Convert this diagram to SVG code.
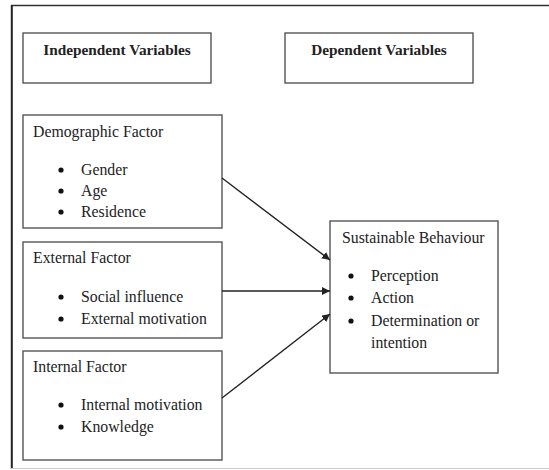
<svg xmlns="http://www.w3.org/2000/svg" width="549" height="470" viewBox="0 0 549 470">
<style>
.box{fill:#fff;stroke:#555;stroke-width:1.4}
.t{font-family:"Liberation Serif","Times New Roman",serif;font-size:15.8px;fill:#222}
.b{font-weight:bold;font-size:15.3px;text-anchor:middle}
.dot{fill:#111}
.con{stroke:#222;stroke-width:1.4;fill:none;marker-end:url(#ah)}
</style>
<defs>
<marker id="ah" viewBox="0 0 10 10" refX="10" refY="5" markerWidth="8" markerHeight="8" markerUnits="userSpaceOnUse" orient="auto">
<path d="M0,0 L10,5 L0,10 z" fill="#222"/>
</marker>
</defs>
<rect width="549" height="470" fill="#fff"/>
<g id="frame">
<line x1="11" y1="5.5" x2="549" y2="5.5" stroke="#333" stroke-width="1.6"/>
<line x1="11.8" y1="5" x2="11.8" y2="469" stroke="#222" stroke-width="2"/>
<line x1="11" y1="468.5" x2="549" y2="468.5" stroke="#ccc" stroke-width="1"/>
</g>
<g id="independent">
<rect class="box" x="23" y="33" width="188" height="50"/>
<text class="t b" x="117" y="55">Independent Variables</text>
</g>
<g id="dependent">
<rect class="box" x="285" y="33" width="188" height="50"/>
<text class="t b" x="379" y="55">Dependent Variables</text>
</g>
<g id="demographic">
<rect class="box" x="23" y="115" width="199" height="113"/>
<text class="t" x="33" y="137">Demographic Factor</text>
<circle class="dot" cx="61" cy="170" r="2.6"/><text class="t" x="81" y="175">Gender</text>
<circle class="dot" cx="61" cy="191" r="2.6"/><text class="t" x="81" y="196">Age</text>
<circle class="dot" cx="61" cy="212" r="2.6"/><text class="t" x="81" y="217">Residence</text>
</g>
<g id="external">
<rect class="box" x="23" y="242" width="199" height="96"/>
<text class="t" x="33" y="263">External Factor</text>
<circle class="dot" cx="61" cy="297" r="2.6"/><text class="t" x="81" y="302">Social influence</text>
<circle class="dot" cx="61" cy="319" r="2.6"/><text class="t" x="81" y="324">External motivation</text>
</g>
<g id="internal">
<rect class="box" x="23" y="351" width="199" height="109"/>
<text class="t" x="33" y="372">Internal Factor</text>
<circle class="dot" cx="61" cy="405" r="2.6"/><text class="t" x="81" y="410">Internal motivation</text>
<circle class="dot" cx="61" cy="427" r="2.6"/><text class="t" x="81" y="432">Knowledge</text>
</g>
<g id="sustainable">
<rect class="box" x="330" y="221" width="168" height="152"/>
<text class="t" x="342" y="243">Sustainable Behaviour</text>
<circle class="dot" cx="351" cy="276" r="2.6"/><text class="t" x="371" y="281">Perception</text>
<circle class="dot" cx="351" cy="298" r="2.6"/><text class="t" x="371" y="303">Action</text>
<circle class="dot" cx="351" cy="321" r="2.6"/><text class="t" x="371" y="326">Determination or</text>
<text class="t" x="371" y="348">intention</text>
</g>
<g id="connectors">
<line class="con" x1="222" y1="178" x2="330" y2="260"/>
<line class="con" x1="222" y1="291" x2="330" y2="291"/>
<line class="con" x1="222" y1="398" x2="330" y2="314"/>
</g>
</svg>
